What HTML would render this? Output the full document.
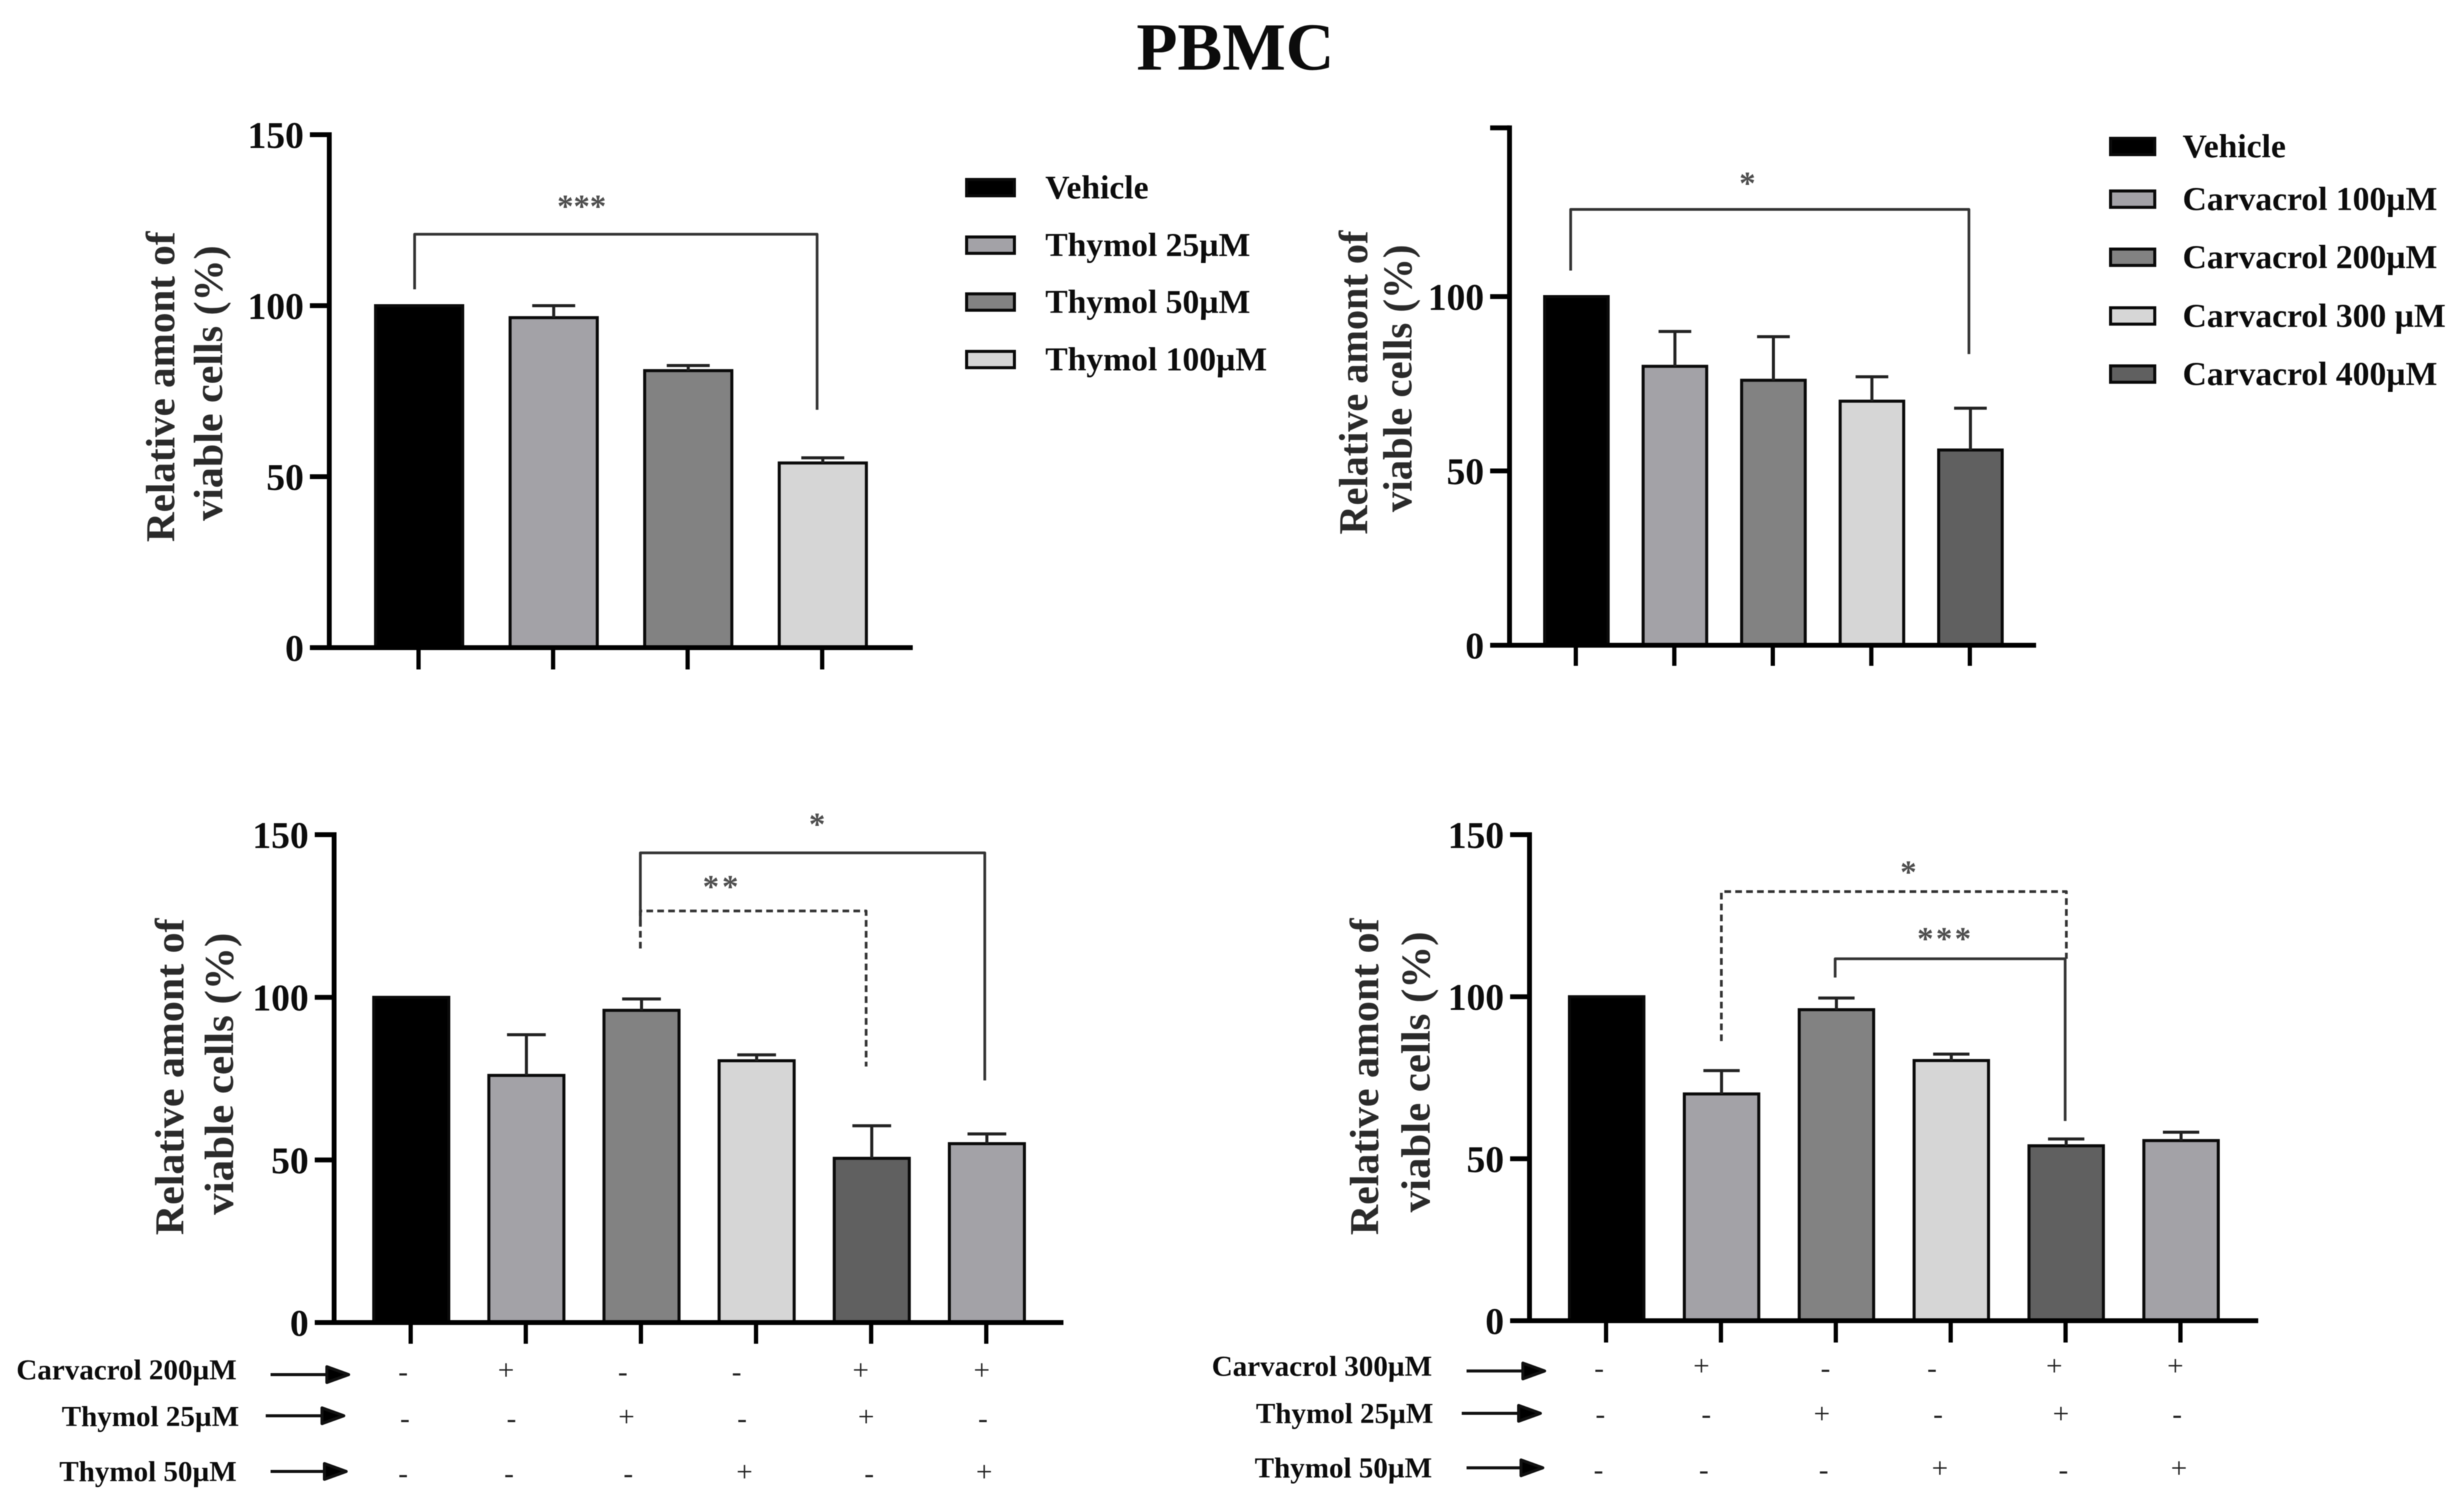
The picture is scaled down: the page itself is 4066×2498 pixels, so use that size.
<!DOCTYPE html>
<html lang="en">
<head>
<meta charset="utf-8">
<title>PBMC viability charts</title>
<style>
html,body{margin:0;padding:0;background:#fff;}
#chart{display:block;width:4066px;height:2498px;filter:blur(0.7px);}
text{font-family:"Liberation Serif",serif;font-weight:bold;fill:#0c0c0c;}
</style>
</head>
<body>
<svg id="chart" xmlns="http://www.w3.org/2000/svg" width="4066" height="2498" viewBox="0 0 4066 2498">
  <rect width="4066" height="2498" fill="#ffffff"/>
  <text x="2041" y="115" font-size="111" text-anchor="middle">PBMC</text>
</svg>
<script>
// ---------- data ----------
const yTicksAll = [0, 50, 100, 150];
const yTickLabelsAll = ["0", "50", "100", "150"];
const yTicksB = [0, 50, 100, 148.4];
const yTickLabelsB = ["0", "50", "100", ""];

const categoriesA = ["Vehicle", "Thymol 25µM", "Thymol 50µM", "Thymol 100µM"];
const valuesA = [100, 96.5, 81, 54];
const errorsA = [0, 3.5, 1.5, 1.5];

const categoriesB = ["Vehicle", "Carvacrol 100µM", "Carvacrol 200µM", "Carvacrol 300 µM", "Carvacrol 400µM"];
const valuesB = [100, 80, 76, 70, 56];
const errorsB = [0, 10, 12.5, 7, 12];

const categoriesC = ["Vehicle", "Carvacrol 200", "Thymol 25", "Thymol 50", "Carvacrol 200 + Thymol 25", "Carvacrol 200 + Thymol 50"];
const valuesC = [100, 76, 96, 80.5, 50.5, 55];
const errorsC = [0, 12.5, 3.5, 1.8, 10, 3];

const categoriesD = ["Vehicle", "Carvacrol 300", "Thymol 25", "Thymol 50", "Carvacrol 300 + Thymol 25", "Carvacrol 300 + Thymol 50"];
const valuesD = [100, 70, 96, 80.3, 54, 55.6];
const errorsD = [0, 7.2, 3.6, 2, 2.1, 2.6];

const rowLabelsC = ["Carvacrol 200µM", "Thymol 25µM", "Thymol 50µM"];
const rowLabelsD = ["Carvacrol 300µM", "Thymol 25µM", "Thymol 50µM"];
const signRow1 = ["-", "+", "-", "-", "+", "+"];
const signRow2 = ["-", "-", "+", "-", "+", "-"];
const signRow3 = ["-", "-", "-", "+", "-", "+"];

const yLabelLine1 = "Relative amont of";
const yLabelLine2 = "viable cells (%)";

// ---------- styling and layout (not data) ----------
const svg = document.getElementById('chart');
const NS = 'http://www.w3.org/2000/svg';
const fillsFour = ["#000000", "#a3a2a7", "#828282", "#d6d6d6"];
const fillsFive = ["#000000", "#a3a2a7", "#828282", "#d6d6d6", "#606060"];
const fillsSix = ["#000000", "#a3a2a7", "#828282", "#d6d6d6", "#606060", "#a3a2a7"];

function make(tag, attrs, parent) {
  const node = document.createElementNS(NS, tag);
  for (const k in attrs) node.setAttribute(k, attrs[k]);
  (parent || svg).appendChild(node);
  return node;
}

function drawPanel(p) {
  const g = make('g', {});
  
  
  const yScale = v => p.y0 - v * p.pxPerUnit;
  const xScale = i => p.x0 + i * p.step;

  // bars
  p.values.forEach((v, i) => {
    const top = yScale(v);
    const bar = make('rect', {
      x: xScale(i) - p.barWidth / 2, y: top, width: p.barWidth, height: p.y0 - top,
      fill: p.fills[i], stroke: '#0a0a0a', 'stroke-width': 5
    }, g);
    
    
    if (p.errors[i] > 0) {
      const errTop = yScale(v + p.errors[i]);
      const whisker = make('path', {
        d: 'M' + xScale(i) + ' ' + top + 'V' + errTop + 'M' + (xScale(i) - p.capWidth / 2) + ' ' + errTop + 'H' + (xScale(i) + p.capWidth / 2),
        fill: 'none', stroke: '#222', 'stroke-width': 5
      }, g);
      
      
    }
  });

  // axes
  const yAxis = make('line', {
    x1: p.axisX, x2: p.axisX, y1: yScale(p.ticks[p.ticks.length - 1]) - 4, y2: p.y0 + 4,
    stroke: '#000', 'stroke-width': 8
  }, g);
  
  
  const xAxis = make('line', {
    x1: p.axisX - 32, x2: p.axisEnd, y1: p.y0, y2: p.y0, stroke: '#000', 'stroke-width': 8
  }, g);
  
  

  p.ticks.forEach((t, i) => {
    const tick = make('line', {
      x1: p.axisX - 32, x2: p.axisX, y1: yScale(t), y2: yScale(t), stroke: '#000', 'stroke-width': 8
    }, g);
    
    
    if (p.tickLabels[i]) {
      const label = make('text', {
        x: p.axisX - 42, y: yScale(t) + 22, 'font-size': 62, 'text-anchor': 'end'
      }, g);
      label.textContent = p.tickLabels[i];
      
      
    }
  });
  p.values.forEach((v, i) => {
    const tick = make('line', {
      x1: xScale(i) - 1, x2: xScale(i) - 1, y1: p.y0, y2: p.tickBottom, stroke: '#000', 'stroke-width': 7
    }, g);
    
    
  });

  // y-axis title
  const t1 = make('text', {
    x: p.title1.x, y: p.title1.y, 'font-size': 68, 'text-anchor': 'middle',
    textLength: p.title1.len, lengthAdjust: 'spacingAndGlyphs',
    transform: 'rotate(-90 ' + p.title1.x + ' ' + p.title1.y + ')', style: 'fill:#2a2a2a'
  }, g);
  t1.textContent = yLabelLine1;
  
  
  const t2 = make('text', {
    x: p.title2.x, y: p.title2.y, 'font-size': 68, 'text-anchor': 'middle',
    textLength: p.title2.len, lengthAdjust: 'spacingAndGlyphs',
    transform: 'rotate(-90 ' + p.title2.x + ' ' + p.title2.y + ')', style: 'fill:#2a2a2a'
  }, g);
  t2.textContent = yLabelLine2;
  
  

  // significance brackets
  p.brackets.forEach(b => {
    const path = make('path', {
      d: 'M' + b.x1 + ' ' + b.y1 + 'V' + b.top + 'H' + b.x2 + 'V' + b.y2,
      fill: 'none', stroke: '#333', 'stroke-width': 4.5, 'stroke-linejoin': 'round',
      'stroke-dasharray': b.dashed ? '11 7' : 'none'
    }, g);
    
    
    const stars = make('text', {
      x: b.sx, y: b.sy + 25, 'font-size': 54, 'text-anchor': 'middle',
      'letter-spacing': b.spacing || 0, style: 'fill:#4e4e4e'
    }, g);
    stars.textContent = b.stars;
    
    
  });

  // legend
  if (p.legend) {
    p.categories.forEach((c, i) => {
      const cy = p.legend.cy[i];
      const swatch = make('rect', {
        x: p.legend.x, y: cy - p.legend.h / 2, width: p.legend.w, height: p.legend.h,
        fill: p.fills[i], stroke: '#0a0a0a', 'stroke-width': 5
      }, g);
      
      
      const text = make('text', {
        x: p.legend.tx, y: cy + 18, 'font-size': p.legend.size
      }, g);
      text.textContent = c;
      
      
    });
  }

  // treatment table
  if (p.table) {
    p.table.rows.forEach((row, r) => {
      const lab = make('text', {
        x: row.labelX, y: row.cy + 16, 'font-size': 48, 'text-anchor': 'end'
      }, g);
      lab.textContent = row.label;
      
      
      const tip = row.a2 - 3;
      const arrow = make('path', {
        d: 'M' + row.a1 + ' ' + row.ay + 'H' + (tip - 36) + 'V' + (row.ay - 13) + 'L' + tip + ' ' + row.ay + 'L' + (tip - 36) + ' ' + (row.ay + 13) + 'V' + row.ay,
        fill: '#000', stroke: '#111', 'stroke-width': 5, 'stroke-linejoin': 'round'
      }, g);
      
      
      row.signs.forEach((s, i) => {
        const plus = s === '+';
        const sign = make('text', {
          x: row.signX[i], y: plus ? row.plusY + 16 : row.minusY + 12,
          'font-size': 48, 'text-anchor': 'middle',
          style: 'font-weight:normal;fill:#222'
        }, g);
        sign.textContent = s;
        
        
      });
    });
  }
}

drawPanel({
  id: 'thymol', categories: categoriesA, values: valuesA, errors: errorsA, fills: fillsFour,
  ticks: yTicksAll, tickLabels: yTickLabelsAll,
  x0: 692.5, step: 222.3, barWidth: 144, capWidth: 71,
  y0: 1070, pxPerUnit: 5.65, axisX: 544, axisEnd: 1508, tickBottom: 1106,
  title1: {x: 288, y: 639, len: 513}, title2: {x: 367, y: 633, len: 455},
  brackets: [{x1: 685, y1: 478, x2: 1350, y2: 677, top: 387, sx: 961, sy: 334, stars: '***'}],
  legend: {x: 1597, w: 79, h: 27, tx: 1727, size: 55.5, cy: [310, 405, 499, 594]}
});

drawPanel({
  id: 'carvacrol', categories: categoriesB, values: valuesB, errors: errorsB, fills: fillsFive,
  ticks: yTicksB, tickLabels: yTickLabelsB,
  x0: 2604.5, step: 162.75, barWidth: 105, capWidth: 54,
  y0: 1066, pxPerUnit: 5.76, axisX: 2494, axisEnd: 3364, tickBottom: 1100,
  title1: {x: 2259, y: 632, len: 502}, title2: {x: 2332, y: 625, len: 442},
  brackets: [{x1: 2595, y1: 447, x2: 3253, y2: 585, top: 346, sx: 2887, sy: 296, stars: '*'}],
  legend: {x: 3487, w: 73, h: 27, tx: 3606, size: 55.5, cy: [242, 329, 425, 522, 618]}
});

drawPanel({
  id: 'carvacrol-200-combo', categories: categoriesC, values: valuesC, errors: errorsC, fills: fillsSix,
  ticks: yTicksAll, tickLabels: yTickLabelsAll,
  x0: 679.5, step: 190.2, barWidth: 124, capWidth: 64,
  y0: 2185, pxPerUnit: 5.373, axisX: 552, axisEnd: 1757, tickBottom: 2220,
  title1: {x: 303, y: 1779, len: 523}, title2: {x: 385, y: 1774, len: 466},
  brackets: [
    {x1: 1058, y1: 1529, x2: 1627, y2: 1785, top: 1409, sx: 1350, sy: 1355, stars: '*'},
    {x1: 1058, y1: 1567, x2: 1431, y2: 1762, top: 1505, sx: 1193, sy: 1458, stars: '**', dashed: true, spacing: 5}
  ],
  table: {rows: [
    {label: rowLabelsC[0], labelX: 391, cy: 2263, a1: 447, a2: 579, ay: 2271, plusY: 2263, minusY: 2270, signs: signRow1, signX: [666, 836, 1029, 1217, 1422, 1622]},
    {label: rowLabelsC[1], labelX: 395, cy: 2340, a1: 439, a2: 571, ay: 2339, plusY: 2340, minusY: 2347, signs: signRow2, signX: [669, 845, 1035, 1226, 1431, 1624]},
    {label: rowLabelsC[2], labelX: 391, cy: 2431, a1: 447, a2: 575, ay: 2431, plusY: 2431, minusY: 2438, signs: signRow3, signX: [666, 841, 1038, 1230, 1436, 1626]}
  ]}
});

drawPanel({
  id: 'carvacrol-300-combo', categories: categoriesD, values: valuesD, errors: errorsD, fills: fillsSix,
  ticks: yTicksAll, tickLabels: yTickLabelsAll,
  x0: 2654.5, step: 189.8, barWidth: 123, capWidth: 60,
  y0: 2182, pxPerUnit: 5.353, axisX: 2527, axisEnd: 3731, tickBottom: 2218,
  title1: {x: 2277, y: 1779, len: 523}, title2: {x: 2362, y: 1771, len: 464},
  brackets: [
    {x1: 2844, y1: 1720, x2: 3414, y2: 1584, top: 1473, sx: 3153, sy: 1434, stars: '*', dashed: true},
    {x1: 3032, y1: 1615, x2: 3412, y2: 1852, top: 1584, sx: 3214, sy: 1544, stars: '***', spacing: 4}
  ],
  table: {rows: [
    {label: rowLabelsD[0], labelX: 2366, cy: 2257, a1: 2423, a2: 2555, ay: 2265, plusY: 2256, minusY: 2264, signs: signRow1, signX: [2642, 2811, 3016, 3192, 3394, 3594]},
    {label: rowLabelsD[1], labelX: 2368, cy: 2335, a1: 2415, a2: 2548, ay: 2335, plusY: 2335, minusY: 2340, signs: signRow2, signX: [2644, 2819, 3010, 3202, 3405, 3597]},
    {label: rowLabelsD[2], labelX: 2366, cy: 2425, a1: 2423, a2: 2552, ay: 2425, plusY: 2425, minusY: 2432, signs: signRow3, signX: [2641, 2815, 3013, 3205, 3409, 3600]}
  ]}
});
</script>
</body>
</html>
